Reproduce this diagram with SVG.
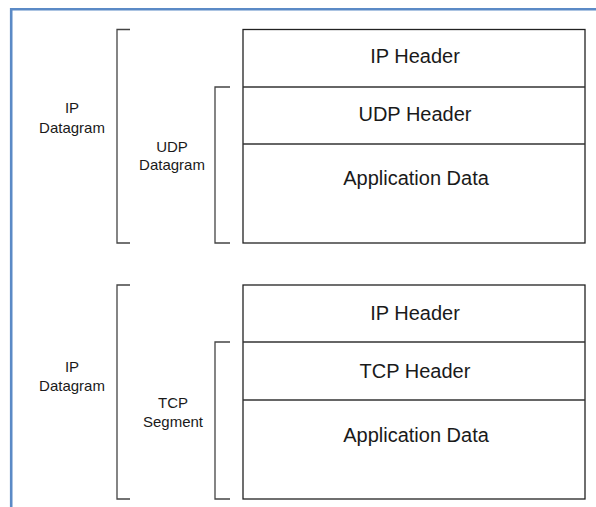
<svg xmlns="http://www.w3.org/2000/svg" width="596" height="507" viewBox="0 0 596 507">
<style>
.box{fill:none;stroke:#222;stroke-width:1.3}
.div{stroke:#333;stroke-width:1.3}
.br{fill:none;stroke:#444;stroke-width:1.3}
.big{font-family:"Liberation Sans",Arial,sans-serif;font-size:20px;fill:#1a1a1a;text-anchor:middle}
.sm{font-family:"Liberation Sans",Arial,sans-serif;font-size:15px;fill:#1a1a1a;text-anchor:middle}
</style>
<rect width="596" height="507" fill="#fff"/>
<path d="M11.2 507 V9.3 H596" fill="none" stroke="#5b8ac6" stroke-width="2.6"/>
<g id="connectors">
<path class="br" d="M130 29.5 H117 V243 H130"/>
<path class="br" d="M230 87 H215 V243 H230"/>
<path class="br" d="M130 285 H117 V499 H130"/>
<path class="br" d="M230 342 H215 V499 H230"/>
</g>
<g id="udp-stack">
<rect class="box" x="243" y="29.5" width="342" height="213.5"/>
<line class="div" x1="243" y1="87" x2="585" y2="87"/>
<line class="div" x1="243" y1="144" x2="585" y2="144"/>
</g>
<g id="ip-header-1"><text class="big" x="415" y="63">IP Header</text></g>
<g id="udp-header"><text class="big" x="415" y="120.5">UDP Header</text></g>
<g id="app-data-1"><text class="big" x="416" y="185">Application Data</text></g>
<g id="tcp-stack">
<rect class="box" x="243" y="285" width="342" height="214"/>
<line class="div" x1="243" y1="342" x2="585" y2="342"/>
<line class="div" x1="243" y1="400" x2="585" y2="400"/>
</g>
<g id="ip-header-2"><text class="big" x="415" y="320">IP Header</text></g>
<g id="tcp-header"><text class="big" x="415" y="377.5">TCP Header</text></g>
<g id="app-data-2"><text class="big" x="416" y="441.5">Application Data</text></g>
<g id="label-ip-datagram-1"><text class="sm" x="72" y="113">IP</text><text class="sm" x="72" y="133">Datagram</text></g>
<g id="label-udp-datagram"><text class="sm" x="172" y="152">UDP</text><text class="sm" x="172" y="170">Datagram</text></g>
<g id="label-ip-datagram-2"><text class="sm" x="72" y="372">IP</text><text class="sm" x="72" y="391">Datagram</text></g>
<g id="label-tcp-segment"><text class="sm" x="173" y="408">TCP</text><text class="sm" x="173" y="427">Segment</text></g>
</svg>
